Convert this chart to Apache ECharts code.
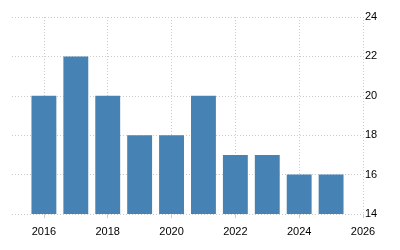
<!DOCTYPE html>
<html><head><meta charset="utf-8">
<script src="https://cdn.jsdelivr.net/npm/echarts@6/dist/echarts.min.js"></script>
<style>html,body{margin:0;padding:0;background:#fff}#c{width:400px;height:250px}</style>
</head><body><div id="c"></div>
<script>
const years = ['2015','2016','2017','2018','2019','2020','2021','2022','2023','2024','2025','2026'];
const values = [null, 20, 22, 20, 18, 18, 20, 17, 17, 16, 16, null];
const yTicks = {min: 14, max: 24, interval: 2};
const showEven = (i) => i % 2 === 1;
const chart = echarts.init(document.getElementById('c'), null, {renderer: 'canvas'});
chart.setOption({
  animation: false,
  grid: {left: 12, right: 37, top: 17, bottom: 36},
  xAxis: {
    type: 'category', data: years, boundaryGap: false,
    axisLine: {show: false},
    axisTick: {show: true, interval: showEven, length: 4, lineStyle: {color: '#ccc'}},
    axisLabel: {interval: showEven, color: '#000', fontSize: 11, fontFamily: 'Liberation Sans, Arial, sans-serif', margin: 12},
    splitLine: {show: true, interval: showEven, lineStyle: {color: '#ccc', type: [1, 2]}}
  },
  yAxis: {
    type: 'value', position: 'right', min: yTicks.min, max: yTicks.max, interval: yTicks.interval,
    axisLine: {show: false}, axisTick: {show: false},
    axisLabel: {color: '#000', fontSize: 11, fontFamily: 'Liberation Sans, Arial, sans-serif', margin: 2},
    splitLine: {show: true, lineStyle: {color: '#ccc', type: [1, 2]}}
  },
  series: [{
    type: 'bar', data: values, barWidth: '78%',
    itemStyle: {color: '#4682B4'}
  }]
});
</script></body></html>
